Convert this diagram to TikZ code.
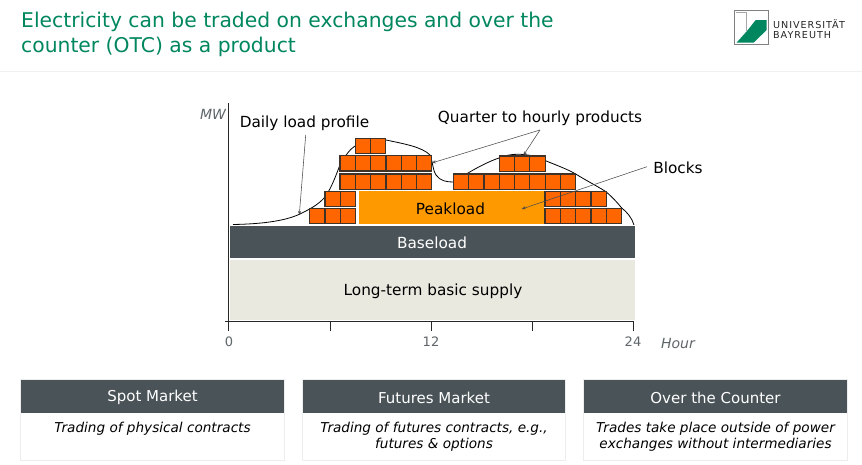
\documentclass[tikz,border=0pt]{standalone}
\usepackage{fontspec}
\setmainfont{DejaVu Sans}
\usetikzlibrary{arrows.meta}
\definecolor{ubgreen}{HTML}{00875F}
\definecolor{slatebar}{HTML}{4A5358}
\definecolor{block}{HTML}{FF6600}
\definecolor{blockline}{HTML}{3F3229}
\definecolor{peak}{HTML}{FF9900}
\definecolor{basic}{HTML}{EAE9E0}
\definecolor{axisgrey}{HTML}{5F666A}
\tikzset{
  x=1pt,y=-1pt,
  lbl/.style={font=\fontsize{15.3}{17}\selectfont,inner sep=0pt,text=black},
  axlbl/.style={font=\fontsize{13}{16}\selectfont,inner sep=0pt,text=axisgrey},
  axit/.style={font=\fontsize{14}{16}\selectfont\itshape,inner sep=0pt,text=axisgrey},
  callout/.style={draw=black!70,line width=0.55pt,-{Stealth[length=4.2pt,width=3.2pt]}},
  cardhead/.style={fill=slatebar,minimum height=32.5pt,inner sep=0pt},
  cardtitle/.style={text=white,inner sep=0pt,font=\fontsize{15}{17}\selectfont},
  cardbody/.style={font=\fontsize{13.6}{16}\selectfont\itshape,align=center,inner sep=0pt},
  tick/.style={draw=black!85,line width=0.9pt}
}
\newcommand{\blockrow}[4]{% x, y top, n, h
  \foreach \i in {1,...,#3}{
    \fill[block] ({#1+(\i-1)*15.3},#2) rectangle ({#1+\i*15.3},{#2+#4});
    \draw[blockline,line width=1.2pt] ({#1+(\i-1)*15.3},#2) rectangle ({#1+\i*15.3},{#2+#4});
  }}
\newcommand{\card}[6]{% name,x0,x1,title,body,y
  \fill[black!7] (#2-1,379) rectangle (#3+1,461);
  \fill[white] (#2,380) rectangle (#3,460);
  \node[cardhead,minimum width={#3-#2},anchor=north west] (#1h) at (#2,380) {};
  \node[cardtitle] (#1t) at ({(#2+#3)/2},397.5) {#4};
  \node[cardbody] (#1b) at ({(#2+#3)/2},#6) {#5};
}
\begin{document}
\begin{tikzpicture}
\useasboundingbox (0,0) rectangle (862,464);
\fill[white] (0,0) rectangle (862,464);
\fill[black!6] (0,70.5) rectangle (862,71.5);
% title
\node[anchor=west,inner sep=0pt,align=left,text=ubgreen,font=\fontsize{20.3}{24.5}\selectfont] (title) at (21,34.5)
  {Electricity can be traded on exchanges and over the\\counter (OTC) as a product};
% logo
\fill[white] (734.3,10) rectangle (768.3,44.3);
\draw[black!50,line width=0.9pt] (734.8,10.5) rectangle (768,44);
\draw[black!35,line width=0.6pt] (736,12) -- (746.7,12) -- (746.7,31);
\fill[ubgreen] (736.5,42.7) -- (747,31) -- (755.7,20) -- (766.7,20) -- (766.7,30) -- (753.5,42.7) -- cycle;
\node[anchor=west,inner sep=0pt,font=\fontsize{9.6}{11}\selectfont\addfontfeatures{LetterSpace=10},text=black!85] (uni) at (773,24) {UNIVERSITÄT};
\node[anchor=west,inner sep=0pt,font=\fontsize{9.6}{11}\selectfont\addfontfeatures{LetterSpace=10},text=black!85] (bay) at (773,35) {BAYREUTH};
% bands
\fill[basic] (230,260) rectangle (634.5,320);
\node[lbl] (basic) at (433,291) {Long-term basic supply};
\fill[slatebar] (230,225.5) rectangle (634.5,258);
\node[lbl,text=white] (base) at (432,243) {Baseload};
% load curve
\draw[black,line width=0.8pt,line join=round] (233,224.5)
  .. controls (262,224) and (285,221) .. (300,214)
  .. controls (310,209) and (318,205) .. (325,197)
  .. controls (332,187) and (336,175) .. (340,165)
  .. controls (345,156) and (350,149) .. (355,146)
  .. controls (362,140) and (375,139) .. (386,140)
  .. controls (405,144) and (422,147) .. (430,155)
  .. controls (433,163) and (433,171) .. (436,175)
  .. controls (440,181) and (447,182) .. (453,182)
  .. controls (459,181) and (463,176) .. (468,173)
  .. controls (480,166) and (490,161) .. (499,158)
  .. controls (515,151) and (535,155) .. (545,160.5)
  .. controls (556,165) and (567,169) .. (575.7,174)
  .. controls (587,181) and (597,186) .. (606,191.7)
  .. controls (612,197) and (617,202) .. (621.7,208)
  .. controls (627,212) and (632,218) .. (634,225);
% peak
\fill[peak] (359,191) rectangle (543.5,224);
\node[lbl] (peak) at (450.5,209) {Peakload};
% blocks
\blockrow{355.2}{138.5}{2}{15.2}
\blockrow{340}{155.8}{6}{15.2}
\blockrow{340}{174}{6}{15.2}
\blockrow{325}{191.3}{2}{15}
\blockrow{309.7}{208.7}{3}{15}
\blockrow{499.2}{156}{3}{15.2}
\blockrow{453.3}{174}{8}{15.2}
\blockrow{545}{191.3}{4}{15}
\blockrow{545}{208.7}{5}{15}
% axes
\draw[tick] (228.4,103) -- (228.4,331);
\draw[tick] (225,321.7) -- (634,321.7);
\foreach \xx in {330,431,532.5,633.5} \draw[tick] (\xx,321.7) -- (\xx,331);
\node[axit] (mw) at (213,114) {MW};
\node[axlbl] (t0) at (229,342) {0};
\node[axlbl] (t12) at (431,342) {12};
\node[axlbl] (t24) at (633,342) {24};
\node[axit] (hour) at (678,343) {Hour};
% labels + callouts
\node[lbl] (daily) at (304.5,123.5) {Daily load profile};
\node[lbl] (quarter) at (540,118.5) {Quarter to hourly products};
\node[lbl] (blocks) at (678,168) {Blocks};
\coordinate (dailyend) at (299.3,215);
\coordinate (apex) at (540,130);
\coordinate (qa) at (523.3,155.5);
\coordinate (qb) at (431.7,163);
\coordinate (bend) at (521.7,209);
\draw[callout] (305.7,135) -- (dailyend);
\draw[callout] (apex) -- (qa);
\draw[callout] (apex) -- (qb);
\draw[callout] (647,166.7) -- (bend);
% cards
\card{spot}{21}{284}{Spot Market}{Trading of physical contracts}{428.5}
\card{fut}{303}{565}{Futures Market}{Trading of futures contracts, e.g.,\\futures \& options}{436.5}
\card{otc}{584}{847}{Over the Counter}{Trades take place outside of power\\exchanges without intermediaries}{436.5}
\end{tikzpicture}
\end{document}
